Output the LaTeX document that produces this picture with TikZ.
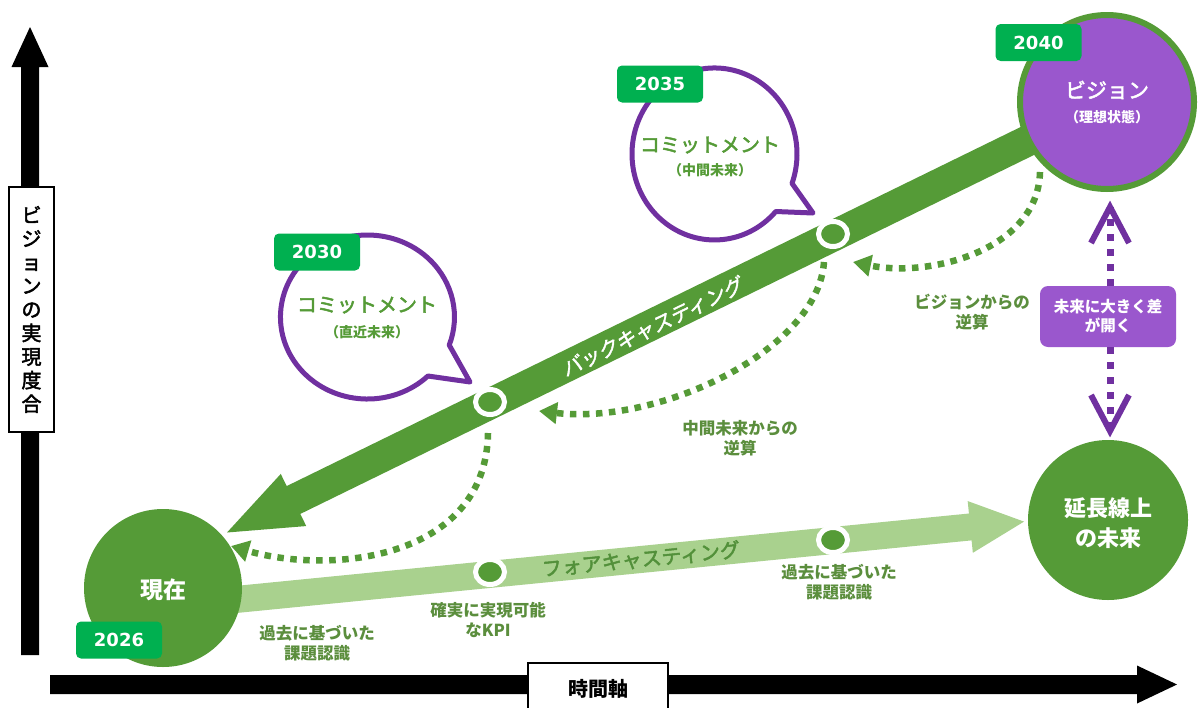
\documentclass[tikz,border=0pt]{standalone}
\usepackage{fontspec}
\setmainfont{Noto Sans CJK JP}
\newfontfamily\numfont{DejaVu Sans}
\newfontfamily\jpm[FakeBold=2.4]{Noto Sans CJK JP}
\newfontfamily\slantjp[FakeSlant=0.18,FakeBold=2]{Noto Sans CJK JP}
\usetikzlibrary{arrows.meta,shapes.geometric}
\definecolor{dgreen}{HTML}{559B37}
\definecolor{lgreen}{HTML}{A9D18E}
\definecolor{tagg}{HTML}{00B050}
\definecolor{purp}{HTML}{7030A0}
\definecolor{vpurp}{HTML}{9A57CD}
\definecolor{lblc}{HTML}{5B8E3D}
\definecolor{fctext}{HTML}{52903A}
\begin{document}
\begin{tikzpicture}[x=1pt,y=-1pt,
  yeartag/.style={fill=tagg, rounded corners=5pt, minimum width=86pt, minimum height=37pt, inner sep=0pt, text=white, font=\numfont\bfseries\fontsize{18}{18}\selectfont},
  disc/.style={circle, fill=dgreen, inner sep=0pt},
  wtext/.style={text=white, inner sep=0pt},
  gtext/.style={text=dgreen, inner sep=0pt},
  bubblepath/.style={draw=purp, line width=5pt, fill=white, line join=round},
  lbl/.style={text=lblc, inner sep=0pt, align=center, font=\bfseries\fontsize{16.5}{20}\selectfont},
  gdots/.style={draw=dgreen, line width=6.5pt, dash pattern=on 6.5pt off 6.5pt, -{Triangle[length=18pt,width=21pt]}},
  pdots/.style={draw=purp, line width=7pt, dash pattern=on 7pt off 8pt},
  chev/.style={draw=purp, line width=6pt, line join=miter},
  ring/.style={ellipse, fill=dgreen, draw=white, line width=5pt, minimum width=29pt, minimum height=25pt, inner sep=0pt},
  axisbox/.style={draw=black, line width=2pt, fill=white, inner sep=0pt, align=center}
]
\useasboundingbox (0,0) rectangle (1198,707);
\fill[white] (0,0) rectangle (1198,707);

% axes
\fill[black] (21,655) -- (21,67) -- (11.5,67) -- (30,27) -- (48.5,67) -- (39,67) -- (39,655) -- cycle;
\fill[black] (50,675) -- (1137,675) -- (1137,665.5) -- (1177,684.5) -- (1137,703.5) -- (1137,694) -- (50,694) -- cycle;
\node[axisbox, minimum width=45pt, minimum height=245pt, font=\jpm\fontsize{20}{23.6}\selectfont] (ylab) at (31.5,309.5) {ビ\\ジ\\ョ\\ン\\の\\実\\現\\度\\合};
\node[axisbox, minimum width=140pt, minimum height=52pt, font=\bfseries\fontsize{20}{20}\selectfont] (xlab) at (598,689) {時間軸};

% speech bubbles
\draw[bubblepath] (427.9,376.0) arc[start angle=46, end angle=380, x radius=87, y radius=82] -- (470,382) -- cycle;
\draw[bubblepath] (775.8,211.5) arc[start angle=42, end angle=380, x radius=82.5, y radius=86] -- (813,213) -- cycle;

% forecasting arrow
\fill[lgreen] (1024,521.6) -- (972.83,552.81) -- (971.59,540.37) -- (171.33,619.43) -- (168.67,592.57) -- (968.93,513.51) -- (967.69,501.07) -- cycle;
% backcasting arrow
\fill[dgreen] (227,532.5) -- (306.24,526.05) -- (300.31,513.92) -- (1113.81,115.92) -- (1100.19,88.08) -- (286.69,486.08) -- (280.76,473.95) -- cycle;

% circles
\node[disc, minimum size=158pt] (now) at (163,588) {};
\node[disc, minimum size=160pt] (ext) at (1108,520) {};
\node[circle, fill=vpurp, draw=dgreen, line width=6pt, minimum size=174pt, inner sep=0pt] (vision) at (1107,102) {};

% ring dots
\node[ring] (k1) at (490,402) {};
\node[ring] (k2) at (833,234) {};
\node[ring] (k3) at (490,572) {};
\node[ring] (k4) at (833,540) {};

% dotted back-calculation arrows
\coordinate (c1s) at (1040,172); \coordinate (c1e) at (853,262);
\draw[gdots] (c1s) .. controls (1038,250) and (930,278) .. (c1e);
\coordinate (c2s) at (824,262); \coordinate (c2e) at (539,411);
\draw[gdots] (c2s) .. controls (818,350) and (660,425) .. (c2e);
\coordinate (c3s) at (488,433); \coordinate (c3e) at (231,546);
\draw[gdots] (c3s) .. controls (486,560) and (330,575) .. (c3e);

% gap box and purple arrows
\node[fill=vpurp, rounded corners=8pt, minimum width=136pt, minimum height=61pt, inner sep=0pt, text=white, align=center, font=\bfseries\fontsize{15.5}{19}\selectfont] (gap) at (1108,316.5) {未来に大きく差\\が開く};
\coordinate (ua) at (1110,207); \coordinate (da) at (1110,431);
\draw[pdots] (gap.north -| ua) -- (ua);
\draw[pdots] (gap.south -| da) -- (da);
\draw[chev] (ua) ++(-19,36) -- (ua) -- ++(19,36);
\draw[chev] (da) ++(-19,-36) -- (da) -- ++(19,-36);

% texts
\node[wtext, font=\jpm\fontsize{21}{21}\selectfont] (vis1) at (1107,90) {ビジョン};
\node[wtext, font=\bfseries\fontsize{14}{14}\selectfont] (vis2) at (1107,117) {（理想状態）};
\node[wtext, font=\bfseries\fontsize{23}{23}\selectfont] (nowt) at (163,590) {現在};
\node[wtext, align=center, font=\bfseries\fontsize{22}{30}\selectfont] (extt) at (1108,523) {延長線上\\の未来};
\node[gtext, font=\jpm\fontsize{20}{20}\selectfont] (cm1) at (367,305) {コミットメント};
\node[gtext, font=\bfseries\fontsize{14}{14}\selectfont] (cm1s) at (367,332) {（直近未来）};
\node[gtext, font=\jpm\fontsize{20}{20}\selectfont] (cm2) at (710,145) {コミットメント};
\node[gtext, font=\bfseries\fontsize{14}{14}\selectfont] (cm2s) at (710,170) {（中間未来）};
\node[wtext, rotate=26, font=\slantjp\fontsize{20}{20}\selectfont] (bct) at (652,327) {バックキャスティング};
\node[text=fctext, inner sep=0pt, rotate=5.7, font=\jpm\fontsize{20}{20}\selectfont] (fct) at (641,559) {フォアキャスティング};

% labels
\node[lbl] (lb1) at (317,643) {過去に基づいた\\課題認識};
\node[lbl] (lb2) at (488,620) {確実に実現可能\\なKPI};
\node[lbl] (lb3) at (839,582) {過去に基づいた\\課題認識};
\node[lbl] (lb4) at (740,438) {中間未来からの\\逆算};
\node[lbl] (lb5) at (972,312) {ビジョンからの\\逆算};

% year tags
\node[yeartag] (y2026) at (119,640) {2026};
\node[yeartag] (y2030) at (317,252) {2030};
\node[yeartag] (y2035) at (660,84) {2035};
\node[yeartag] (y2040) at (1038.5,42.5) {2040};
\end{tikzpicture}
\end{document}
